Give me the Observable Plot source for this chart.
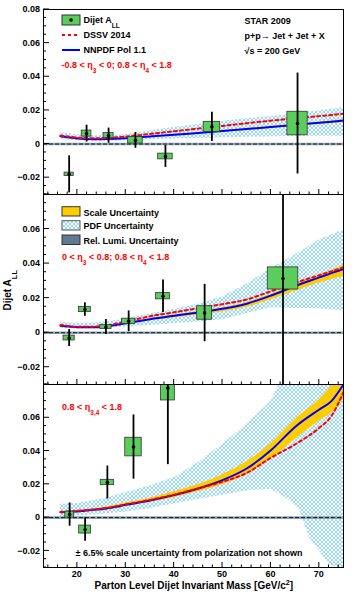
<!DOCTYPE html>
<html><head><meta charset="utf-8">
<script src="https://cdn.jsdelivr.net/npm/d3@7"></script>
<script src="https://cdn.jsdelivr.net/npm/@observablehq/plot@0.6"></script>
<style>
html,body{margin:0;padding:0;background:#fff;}
#chart{width:362px;height:600px;}
#chart svg{display:block;overflow:visible;}
</style></head><body>
<svg width="0" height="0" style="position:absolute">
  <defs>
    <pattern id="hatch" patternUnits="userSpaceOnUse" width="4" height="4">
      <path d="M0,0L4,4M4,0L0,4M-1,3L1,5M3,-1L5,1M3,5L5,3M-1,1L1,-1" stroke="#8ad4f5" stroke-width="0.9" fill="none"/>
    </pattern>
  </defs>
</svg>
<div id="chart"></div>
<script>
// ---------- axes ----------
const xDomain = [13, 75];
const yDomain = [-0.03, 0.08];
const xMajorTicks = [20, 30, 40, 50, 60, 70];
const xMinorTicks = [14,16,18,22,24,26,28,32,34,36,38,42,44,46,48,52,54,56,58,62,64,66,68,72,74];
const yMajorTicks = [-0.02, 0, 0.02, 0.04, 0.06, 0.08];
const yMinorTicks = [-0.03,-0.025,-0.015,-0.01,-0.005,0.005,0.01,0.015,0.025,0.03,0.035,0.045,0.05,0.055,0.065,0.07,0.075];
const yLabels1 = [-0.02, 0, 0.02, 0.04, 0.06, 0.08];
const yLabels23 = [-0.02, 0, 0.02, 0.04, 0.06];

// ---------- data: panel 1 (-0.8<eta3<0; 0.8<eta4<1.8) ----------
const p1Mass    = [18.3, 21.9, 26.45, 32.0, 38.2, 47.8, 65.5];
const p1ALL     = [-0.018, 0.0062, 0.005, 0.0022, -0.0074, 0.0102, 0.0122];
const p1Stat    = [0.011, 0.005, 0.0045, 0.0047, 0.0065, 0.0087, 0.030];
const p1Sys     = [0.001, 0.0018, 0.0015, 0.0019, 0.0017, 0.003, 0.007];
const p1MassErr = [0.95, 1.0, 1.05, 1.5, 1.5, 1.7, 2.1];

// ---------- data: panel 2 (0<eta3<0.8; 0.8<eta4<1.8) ----------
const p2Mass    = [18.3, 21.55, 25.9, 30.6, 37.7, 46.3, 62.5];
const p2ALL     = [-0.0031, 0.0134, 0.0033, 0.0066, 0.0211, 0.0114, 0.0314];
const p2Stat    = [0.0049, 0.0039, 0.0044, 0.006, 0.0094, 0.0166, 0.066];
const p2Sys     = [0.0014, 0.0015, 0.0011, 0.0015, 0.0018, 0.0039, 0.0064];
const p2MassErr = [1.16, 1.23, 1.17, 1.37, 1.44, 1.54, 3.15];

// ---------- data: panel 3 (0.8<eta3,4<1.8) ----------
const p3Mass    = [18.4, 21.6, 26.2, 31.6, 38.7];
const p3ALL     = [0.0018, -0.0072, 0.0211, 0.0424, 0.0778];
const p3Stat    = [0.007, 0.007, 0.0099, 0.0193, 0.046];
const p3Sys     = [0.0018, 0.0024, 0.0016, 0.0056, 0.0074];
const p3MassErr = [0.9, 1.23, 1.37, 1.7, 1.44];

// ---------- theory ----------
const thMass   = [16.5, 18, 20, 22, 24, 26, 28, 30, 35, 40, 45, 50, 55, 60, 65, 70, 72.5, 75];
const nnpdf1   = [0.0046,0.0040,0.0033,0.0030,0.0029,0.0030,0.0032,0.0035,0.0045,0.0055,0.0066,0.0077,0.0089,0.0101,0.0114,0.0127,0.0133,0.0140];
const dssv1    = [0.0051,0.0045,0.0038,0.0035,0.0034,0.0036,0.0040,0.0045,0.0060,0.0076,0.0092,0.0108,0.0124,0.0139,0.0153,0.0166,0.0173,0.0180];
const scaleLo1 = [0.0044,0.0038,0.0031,0.0028,0.0027,0.0028,0.0030,0.0033,0.0042,0.0051,0.0061,0.0071,0.0082,0.0093,0.0104,0.0116,0.0121,0.0127];
const scaleHi1 = [0.0047,0.0041,0.0034,0.0031,0.0030,0.0031,0.0033,0.0036,0.0046,0.0057,0.0068,0.0079,0.0091,0.0104,0.0117,0.0130,0.0136,0.0143];
const pdfLo1   = [0.0026,0.0023,0.0019,0.0017,0.0016,0.0016,0.0017,0.0019,0.0025,0.0030,0.0033,0.0037,0.0040,0.0043,0.0045,0.0046,0.0046,0.0046];
const pdfHi1   = [0.0068,0.0062,0.0055,0.0051,0.0050,0.0050,0.0052,0.0055,0.0078,0.0098,0.0118,0.0135,0.0150,0.0163,0.0180,0.0198,0.0207,0.0218];

const nnpdf2   = [0.0040,0.0036,0.0032,0.0031,0.0032,0.0036,0.0045,0.0055,0.0078,0.0098,0.0117,0.0138,0.0168,0.0215,0.0270,0.0320,0.0345,0.0368];
const dssv2    = [0.0045,0.0039,0.0034,0.0034,0.0036,0.0042,0.0052,0.0064,0.0095,0.0118,0.0142,0.0165,0.0192,0.0240,0.0288,0.0333,0.0355,0.0378];
const scaleLo2 = [0.0037,0.0033,0.0029,0.0028,0.0029,0.0032,0.0040,0.0049,0.0069,0.0086,0.0102,0.0120,0.0147,0.0190,0.0240,0.0288,0.0307,0.0325];
const scaleHi2 = [0.0042,0.0038,0.0034,0.0033,0.0034,0.0038,0.0047,0.0058,0.0082,0.0103,0.0123,0.0145,0.0175,0.0223,0.0280,0.0332,0.0360,0.0390];
const pdfLo2   = [0.0025,0.0023,0.0021,0.0021,0.0022,0.0024,0.0028,0.0033,0.0042,0.0052,0.0062,0.0075,0.0110,0.0145,0.0140,0.0138,0.0132,0.0125];
const pdfHi2   = [0.0060,0.0057,0.0054,0.0055,0.0057,0.0062,0.0070,0.0081,0.0108,0.0135,0.0165,0.0207,0.0280,0.0370,0.0450,0.0537,0.0565,0.0595];

const nnpdf3   = [0.0032,0.0033,0.0037,0.0042,0.0048,0.0055,0.0065,0.0077,0.0103,0.0135,0.0175,0.0225,0.0295,0.0405,0.0545,0.0650,0.0700,0.0800];
const dssv3    = [0.0034,0.0036,0.0040,0.0045,0.0051,0.0058,0.0068,0.0080,0.0106,0.0138,0.0175,0.0215,0.0268,0.0360,0.0440,0.0540,0.0610,0.0755];
const scaleLo3 = [0.0029,0.0030,0.0033,0.0037,0.0042,0.0048,0.0056,0.0067,0.0090,0.0120,0.0155,0.0197,0.0260,0.0355,0.0470,0.0580,0.0630,0.0710];
const scaleHi3 = [0.0035,0.0037,0.0042,0.0048,0.0055,0.0063,0.0075,0.0088,0.0117,0.0155,0.0200,0.0258,0.0335,0.0445,0.0590,0.0710,0.0790,0.0880];
const pdf3Mass = [16.5, 20, 25, 30, 35, 40, 45, 50, 55, 60, 62, 64, 66, 68, 70, 72, 75];
const pdfLo3   = [0.0005,0.0010,0.0020,0.0032,0.0055,0.0082,0.0110,0.0135,0.0160,0.0170,0.0140,0.0100,0.0040,-0.0120,-0.0200,-0.0280,-0.0320];
const pdfHi3   = [0.0080,0.0085,0.0110,0.0150,0.0190,0.0240,0.0330,0.0440,0.0560,0.0700,0.0820,0.0900,0.0950,0.1000,0.1050,0.1100,0.1150];

// ---------- styling ----------
const FONT = '"Liberation Sans", Arial, Helvetica, sans-serif';
const GREEN = "#5ccd5c";
const ORANGE = "#ffcc00";
const LUMI = "#5f7a92";

const pts = (m, a, s, sy, me) => m.map((v, i) => ({mass: v, all: a[i], stat: s[i], sys: sy[i], mErr: me[i]}));
const theory = (nn, ds, sl, sh) => thMass.map((v, i) => ({m: v, nn: nn[i], ds: ds[i], sLo: sl[i], sHi: sh[i]}));
const band = (m, lo, hi) => m.map((v, i) => ({m: v, lo: lo[i], hi: hi[i]}));

function fmtY(v) {
  if (v === 0) return "0";
  return (v < 0 ? "\u2212" : "") + Math.abs(v).toFixed(2);
}

function axesMark(yLabels, showX) {
  return (index, scales, values, dims) => {
    const {x, y} = scales;
    const g = d3.create("svg:g");
    const L = dims.marginLeft, B = dims.height - dims.marginBottom;
    const tk = g.append("g").attr("stroke", "#000").attr("stroke-width", 1);
    for (const v of yMinorTicks) tk.append("line").attr("x1", L).attr("x2", L + 3).attr("y1", y(v)).attr("y2", y(v));
    for (const v of yMajorTicks) tk.append("line").attr("x1", L).attr("x2", L + 6).attr("y1", y(v)).attr("y2", y(v));
    for (const v of xMinorTicks) tk.append("line").attr("x1", x(v)).attr("x2", x(v)).attr("y1", B).attr("y2", B - 2.5);
    for (const v of xMajorTicks) tk.append("line").attr("x1", x(v)).attr("x2", x(v)).attr("y1", B).attr("y2", B - 5);
    const lab = g.append("g").attr("font-family", FONT).attr("font-weight", "bold").attr("font-size", 9).attr("fill", "#000");
    for (const v of yLabels) lab.append("text").attr("x", L - 3).attr("y", y(v) + 3.2).attr("text-anchor", "end").text(fmtY(v));
    if (showX) for (const v of xMajorTicks) lab.append("text").attr("x", x(v)).attr("y", B + 9.5).attr("text-anchor", "middle").text(v);
    return g.node();
  };
}

function addText(g, x, y, parts, opts = {}) {
  const t = g.append("text").attr("x", x).attr("y", y).attr("text-anchor", opts.anchor || "start");
  if (opts.fill) t.attr("fill", opts.fill);
  if (opts.size) t.attr("font-size", opts.size);
  if (opts.transform) t.attr("transform", opts.transform);
  let shift = 0;
  for (const p of parts) {
    const s = t.append("tspan").text(p.t);
    const target = p.sub ? p.sub : (p.sup ? -p.sup : 0);
    if (target !== shift) { s.attr("dy", target - shift); shift = target; }
    if (p.sub || p.sup) s.attr("font-size", p.size || 6.5);
  }
  return t;
}

function overlay1() {
  return () => {
    const g = d3.create("svg:g").attr("font-family", FONT).attr("font-weight", "bold").attr("font-size", 9).attr("fill", "#000");
    g.append("rect").attr("x", 62).attr("y", 15).attr("width", 18).attr("height", 10).attr("fill", GREEN).attr("stroke", "#333");
    g.append("circle").attr("cx", 71).attr("cy", 20).attr("r", 1.8).attr("fill", "#000");
    addText(g, 83.5, 23.2, [{t: "Dijet A"}, {t: "LL", sub: 5}]);
    g.append("line").attr("x1", 62).attr("x2", 80).attr("y1", 35).attr("y2", 35).attr("stroke", "#ff0000").attr("stroke-width", 2).attr("stroke-dasharray", "3,3");
    addText(g, 83.5, 38.2, [{t: "DSSV 2014"}]);
    g.append("line").attr("x1", 62).attr("x2", 80).attr("y1", 50).attr("y2", 50).attr("stroke", "#0000ff").attr("stroke-width", 2);
    addText(g, 83.5, 53.2, [{t: "NNPDF Pol 1.1"}]);
    addText(g, 61.5, 68.2, [{t: "-0.8 < \u03b7"}, {t: "3", sub: 5}, {t: " < 0; 0.8 < \u03b7"}, {t: "4", sub: 5}, {t: " < 1.8"}], {fill: "#ff0000"});
    addText(g, 244.5, 23.7, [{t: "STAR 2009"}]);
    addText(g, 244.5, 39.2, [{t: "p+p\u2192 Jet + Jet + X"}]);
    addText(g, 244.5, 53.7, [{t: "\u221As = 200 GeV"}]);
    return g.node();
  };
}

function overlay2() {
  return () => {
    const g = d3.create("svg:g").attr("font-family", FONT).attr("font-weight", "bold").attr("font-size", 9).attr("fill", "#000");
    g.append("rect").attr("x", 62).attr("y", 12.7).attr("width", 18).attr("height", 9.3).attr("fill", ORANGE).attr("stroke", "#333");
    addText(g, 83.5, 21.5, [{t: "Scale Uncertainty"}]);
    g.append("rect").attr("x", 62).attr("y", 26.7).attr("width", 18).attr("height", 9.3).attr("fill", "url(#hatch)").attr("stroke", "#555");
    addText(g, 83.5, 35.2, [{t: "PDF Uncertainty"}]);
    g.append("rect").attr("x", 62).attr("y", 41).attr("width", 18).attr("height", 9.5).attr("fill", LUMI).attr("stroke", "#333");
    addText(g, 83.5, 49.5, [{t: "Rel. Lumi. Uncertainty"}]);
    addText(g, 62, 65.9, [{t: "0 < \u03b7"}, {t: "3", sub: 5}, {t: " < 0.8; 0.8 < \u03b7"}, {t: "4", sub: 5}, {t: " < 1.8"}], {fill: "#ff0000"});
    // y-axis title
    addText(g, 0, 0, [{t: "Dijet A"}, {t: "LL", sub: 6, size: 7.5}], {anchor: "end", size: 10, transform: "translate(11,76) rotate(-90)"});
    return g.node();
  };
}

function overlay3() {
  return () => {
    const g = d3.create("svg:g").attr("font-family", FONT).attr("font-weight", "bold").attr("font-size", 9).attr("fill", "#000");
    addText(g, 62, 25.9, [{t: "0.8 < \u03b7"}, {t: "3,4", sub: 5}, {t: " < 1.8"}], {fill: "#ff0000"});
    addText(g, 75.5, 171.9, [{t: "\u00b1 6.5% scale uncertainty from polarization not shown"}]);
    addText(g, 293, 204.5, [{t: "Parton Level Dijet Invariant Mass [GeV/c"}, {t: "2", sup: 4, size: 7}, {t: "]"}], {anchor: "end", size: 10});
    return g.node();
  };
}

function dataMarks(points, th, pdf) {
  return [
    Plot.areaY(pdf, {x: "m", y1: "lo", y2: "hi", fill: "url(#hatch)", clip: true}),
    Plot.areaY(th, {x: "m", y1: "sLo", y2: "sHi", fill: ORANGE, curve: "monotone-x", clip: true}),
    Plot.ruleY([0], {stroke: "#8fa4b8", strokeWidth: 2.6}),
    Plot.ruleY([0], {stroke: "#1a1a1a", strokeWidth: 1, strokeDasharray: "4,2"}),
    Plot.line(th, {x: "m", y: "nn", stroke: "#0000ff", strokeWidth: 2, curve: "monotone-x", clip: true}),
    Plot.line(th, {x: "m", y: "ds", stroke: "#ff0000", strokeWidth: 2, strokeDasharray: "3,3", curve: "monotone-x", clip: true}),
    Plot.rect(points, {x1: d => d.mass - d.mErr, x2: d => d.mass + d.mErr, y1: d => d.all - d.sys, y2: d => d.all + d.sys, fill: GREEN, stroke: "#333", strokeWidth: 0.8, clip: true}),
    Plot.ruleX(points, {x: "mass", y1: d => d.all - d.stat, y2: d => d.all + d.stat, stroke: "#000", strokeWidth: 1.8, clip: true}),
    Plot.dot(points, {x: "mass", y: "all", r: 1.8, fill: "#000", clip: true})
  ];
}

function panel(height, marginTop, marginBottom, marks) {
  return Plot.plot({
    width: 362, height, marginLeft: 43, marginRight: 19, marginTop, marginBottom,
    x: {domain: xDomain, axis: null},
    y: {domain: yDomain, axis: null},
    style: {fontFamily: FONT, fontSize: "9px", overflow: "visible", background: "transparent"},
    marks
  });
}

const chart = document.getElementById("chart");
chart.append(panel(194, 9, 0, [
  ...dataMarks(pts(p1Mass, p1ALL, p1Stat, p1Sys, p1MassErr), theory(nnpdf1, dssv1, scaleLo1, scaleHi1), band(thMass, pdfLo1, pdfHi1)),
  Plot.frame({stroke: "#000", strokeWidth: 1}),
  axesMark(yLabels1, false),
  overlay1()
]));
chart.append(panel(190, 0, 0, [
  ...dataMarks(pts(p2Mass, p2ALL, p2Stat, p2Sys, p2MassErr), theory(nnpdf2, dssv2, scaleLo2, scaleHi2), band(thMass, pdfLo2, pdfHi2)),
  Plot.frame({stroke: "#000", strokeWidth: 1}),
  axesMark(yLabels23, false),
  overlay2()
]));
chart.append(panel(216, 0, 33, [
  ...dataMarks(pts(p3Mass, p3ALL, p3Stat, p3Sys, p3MassErr), theory(nnpdf3, dssv3, scaleLo3, scaleHi3), band(pdf3Mass, pdfLo3, pdfHi3)),
  Plot.frame({stroke: "#000", strokeWidth: 1}),
  axesMark(yLabels23, true),
  overlay3()
]));
</script>
</body></html>
